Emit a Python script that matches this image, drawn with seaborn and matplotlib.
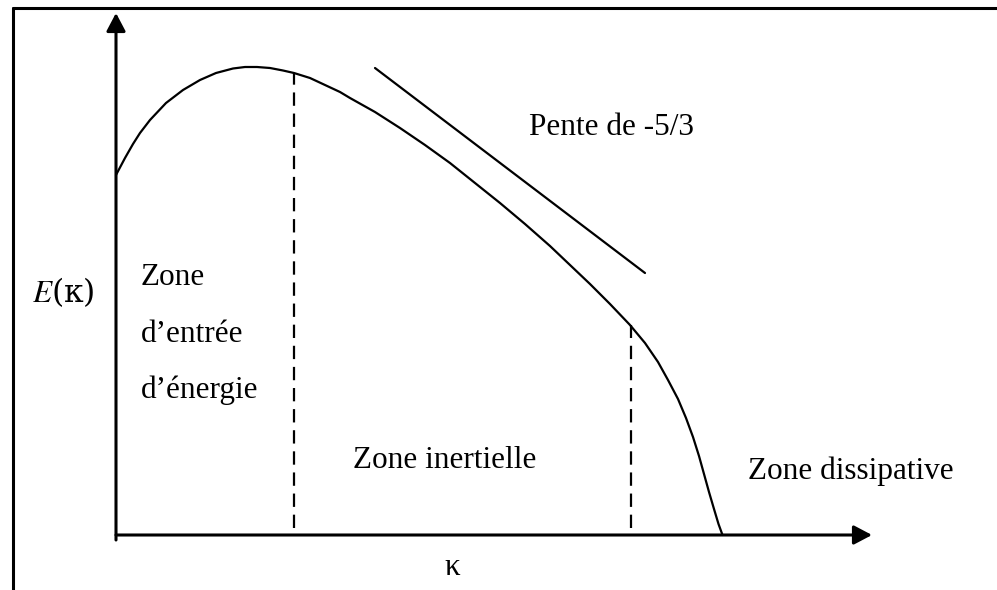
import numpy as np
import pandas as pd
import matplotlib
matplotlib.use("Agg")
import matplotlib.pyplot as plt
from matplotlib.lines import Line2D
from matplotlib.patches import ArrowStyle
import seaborn as sns

# ---- data (schematic energy spectrum, units: arbitrary) ----
kappa = [0.00, 0.09, 0.17, 0.24, 0.34, 0.50, 0.67, 0.84, 1.00, 1.17, 1.29,
         1.41, 1.54, 1.67, 1.78, 1.94, 2.09, 2.24, 2.34, 2.59, 2.84, 3.09,
         3.34, 3.59, 3.84, 4.09, 4.34, 4.54, 4.74, 4.94, 5.14, 5.29, 5.42,
         5.52, 5.62, 5.70, 5.77, 5.83, 5.88, 5.93, 5.98, 6.025, 6.065]
energy = [3.60, 3.77, 3.91, 4.02, 4.15, 4.32, 4.45, 4.55, 4.62, 4.665, 4.68,
          4.68, 4.67, 4.645, 4.62, 4.57, 4.50, 4.43, 4.37, 4.23, 4.07, 3.90,
          3.72, 3.52, 3.32, 3.11, 2.89, 2.70, 2.51, 2.31, 2.10, 1.92, 1.73,
          1.55, 1.36, 1.17, 0.98, 0.79, 0.61, 0.43, 0.26, 0.11, 0.00]
slope_k = [2.59, 5.29]
slope_e = [4.67, 2.62]
bounds_k = [1.78, 5.15]
bounds_e = [4.62, 2.10]
x_axis_end = 7.56
y_axis_end = 5.22

labels_zone_entree = ["Zone", "d\u2019entr\u00e9e", "d\u2019\u00e9nergie"]

sns.set_theme(style="white")
plt.rcParams["font.family"] = ["Liberation Serif", "DejaVu Serif"]
plt.rcParams["mathtext.fontset"] = "stix"
plt.rcParams["text.color"] = "black"

fig = plt.figure(figsize=(9.97, 5.90), dpi=100)
ax = fig.add_axes([0, 0, 1, 1])
ax.set_xlim(-1.16, 8.81)
ax.set_ylim(-0.55, 5.35)
ax.axis("off")

df = pd.DataFrame({"kappa": kappa, "E": energy})
sns.lineplot(data=df, x="kappa", y="E", ax=ax, color="black", lw=1.6, sort=False)
sns.lineplot(x=slope_k, y=slope_e, ax=ax, color="black", lw=1.6)

for bk, be in zip(bounds_k, bounds_e):
    ax.plot([bk, bk], [0.07, be], color="black", lw=1.6, linestyle=(0, (6, 3.5)))

arrow = ArrowStyle("-|>", head_length=1.1, head_width=0.58)
ax.annotate("", xy=(x_axis_end, 0), xytext=(0, 0),
            arrowprops=dict(arrowstyle=arrow, color="black", lw=2.2,
                            mutation_scale=10, shrinkA=0, shrinkB=0))
ax.annotate("", xy=(0, y_axis_end), xytext=(0, -0.05),
            arrowprops=dict(arrowstyle=arrow, color="black", lw=2.2,
                            mutation_scale=10, shrinkA=0, shrinkB=0))

fs = 22.5
kw = dict(fontsize=fs, va="baseline", color="black")
ax.text(4.13, 4.00, "Pente de -5/3", ha="left", **kw)
for lab, yb in zip(labels_zone_entree, [2.50, 1.93, 1.37]):
    ax.text(0.25, yb, lab, ha="left", **kw)
ax.text(2.37, 0.67, "Zone inertielle", ha="left", **kw)
ax.text(6.32, 0.56, "Zone dissipative", ha="left", **kw)
ax.text(3.36, -0.40, "\u03ba", ha="center", **kw)
ax.text(-0.84, 2.43, "$E$(\u03ba)", fontsize=fs, va="center", ha="left",
        color="black", family=["DejaVu Serif"])

# frame border (left and top)
fig.add_artist(Line2D([13/997, 13/997], [0, 1 - 8/590], color="black", lw=2.2,
                      transform=fig.transFigure))
fig.add_artist(Line2D([13/997, 1], [1 - 8/590, 1 - 8/590], color="black", lw=2.2,
                      transform=fig.transFigure))

fig.savefig("out.png", dpi=100, facecolor="white")
